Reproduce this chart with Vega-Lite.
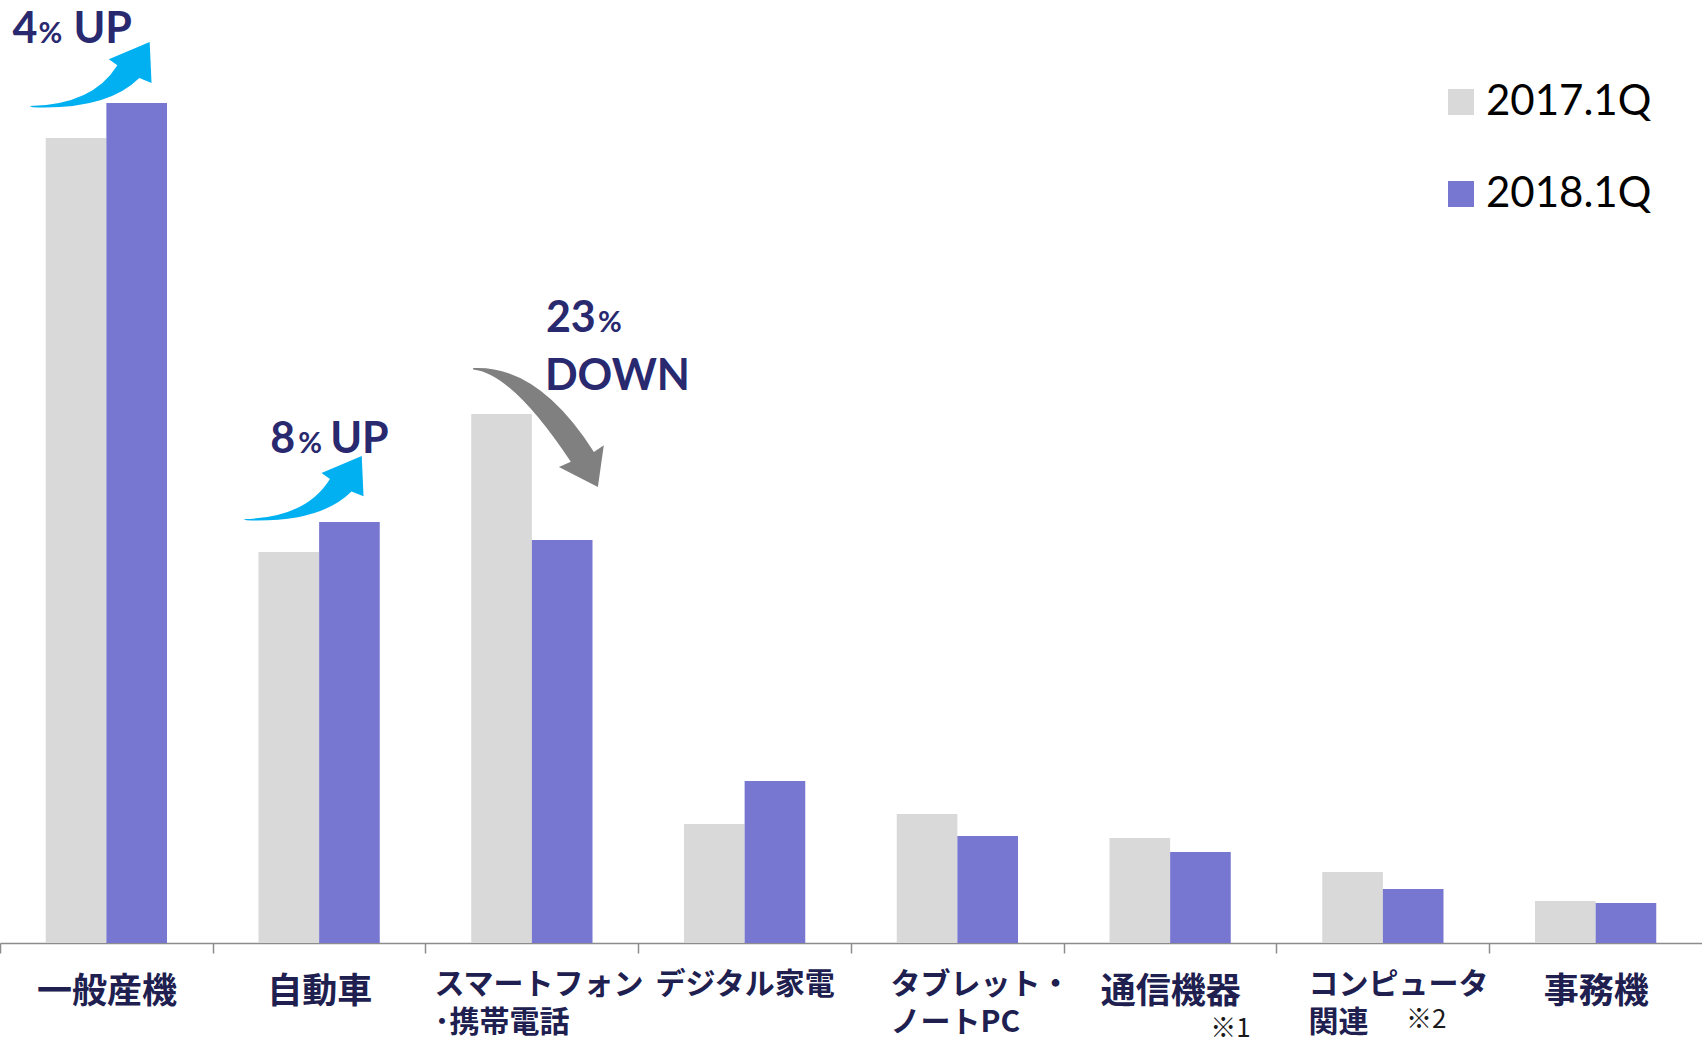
{
  "$schema": "https://vega.github.io/schema/vega-lite/v6.json",
  "width": 1702,
  "height": 943,
  "autosize": {"type": "none"},
  "padding": {"left": 0, "top": 0, "right": 0, "bottom": 96},
  "background": "white",
  "config": {"view": {"stroke": null}},
  "datasets": {
    "bars": [
      {"cat": "一般産機", "series": "2017.1Q", "value": 805},
      {"cat": "一般産機", "series": "2018.1Q", "value": 840},
      {"cat": "自動車", "series": "2017.1Q", "value": 391},
      {"cat": "自動車", "series": "2018.1Q", "value": 421},
      {"cat": "スマートフォン|･携帯電話", "series": "2017.1Q", "value": 529},
      {"cat": "スマートフォン|･携帯電話", "series": "2018.1Q", "value": 403},
      {"cat": "デジタル家電", "series": "2017.1Q", "value": 119},
      {"cat": "デジタル家電", "series": "2018.1Q", "value": 162},
      {"cat": "タブレット・|ノートPC", "series": "2017.1Q", "value": 129},
      {"cat": "タブレット・|ノートPC", "series": "2018.1Q", "value": 107},
      {"cat": "通信機器", "series": "2017.1Q", "value": 105},
      {"cat": "通信機器", "series": "2018.1Q", "value": 91},
      {"cat": "コンピュータ|関連", "series": "2017.1Q", "value": 71},
      {"cat": "コンピュータ|関連", "series": "2018.1Q", "value": 54},
      {"cat": "事務機", "series": "2017.1Q", "value": 42},
      {"cat": "事務機", "series": "2018.1Q", "value": 40}
    ]
  },
  "layer": [
    {
      "data": {"name": "bars"},
      "mark": {"type": "bar"},
      "encoding": {
        "x": {
          "field": "cat",
          "type": "nominal",
          "scale": {
            "domain": ["一般産機", "自動車", "スマートフォン|･携帯電話", "デジタル家電", "タブレット・|ノートPC", "通信機器", "コンピュータ|関連", "事務機"],
            "paddingInner": 0.43,
            "paddingOuter": 0.215
          },
          "axis": {
            "title": null,
            "domainColor": "#8c8c8c",
            "domainWidth": 1.5,
            "tickColor": "#8c8c8c",
            "tickWidth": 1.5,
            "tickSize": 10,
            "tickOffset": -106.4,
            "labelAngle": 0,
            "labelFont": "Noto Sans CJK JP",
            "labelFontWeight": "bold",
            "labelColor": "#202050",
            "labelFontSize": {"condition": {"test": "indexof(['一般産機','自動車','事務機','通信機器'], datum.value) >= 0", "value": 35}, "value": 30},
            "labelPadding": {"condition": {"test": "indexof(['一般産機','自動車','事務機','通信機器'], datum.value) >= 0", "value": 21}, "value": 16},
            "labelAlign": {"condition": {"test": "indexof(datum.value, '|') >= 0", "value": "left"}, "value": "center"},
            "labelOffset": {
              "condition": [
                {"test": "datum.value == 'スマートフォン|･携帯電話'", "value": 8.5},
                {"test": "datum.value == 'タブレット・|ノートPC'", "value": 39},
                {"test": "datum.value == 'コンピュータ|関連'", "value": 31.6}
              ],
              "value": 106.4
            },
            "labelBaseline": "top",
            "labelLineHeight": 38,
            "labelLimit": 400,
            "labelOverlap": false,
            "labelExpr": "split(datum.label, '|')"
          }
        },
        "xOffset": {"field": "series", "type": "nominal", "scale": {"paddingInner": 0, "paddingOuter": 0}},
        "y": {"field": "value", "type": "quantitative", "scale": {"domain": [0, 943], "nice": false}, "axis": null},
        "color": {
          "field": "series",
          "type": "nominal",
          "scale": {"domain": ["2017.1Q", "2018.1Q"], "range": ["#d9d9d9", "#7777d1"]},
          "legend": {
            "title": null,
            "orient": "none",
            "legendX": 1440,
            "legendY": 81,
            "direction": "vertical",
            "symbolType": "square",
            "symbolSize": 676,
            "symbolStrokeWidth": 0,
            "labelFont": "Lato",
            "labelFontSize": 42,
            "labelColor": "black",
            "labelOffset": 4,
            "rowPadding": 50,
            "padding": 0,
            "labelLimit": 400
          }
        }
      }
    },
    {
      "data": {"values": [{"cat": "通信機器", "v": -94, "t": "※1"}]},
      "mark": {"type": "text", "align": "left", "baseline": "alphabetic", "font": "Noto Sans CJK JP", "fontSize": 26, "color": "#1a1a1a", "dx": 40},
      "encoding": {"x": {"field": "cat", "type": "nominal"}, "y": {"field": "v", "type": "quantitative"}, "text": {"field": "t"}}
    },
    {
      "data": {"values": [{"cat": "コンピュータ|関連", "v": -85, "t": "※2"}]},
      "mark": {"type": "text", "align": "left", "baseline": "alphabetic", "font": "Noto Sans CJK JP", "fontSize": 26, "color": "#1a1a1a", "dx": 23},
      "encoding": {"x": {"field": "cat", "type": "nominal"}, "y": {"field": "v", "type": "quantitative"}, "text": {"field": "t"}}
    },
    {
      "data": {"values": [{"cat": "一般産機", "v": 868}]},
      "mark": {"type": "point", "shape": "M-1.26,0.51 Q-0.22,0.49 0.18,-0.16 L0.04,-0.26 L0.71,-0.54 L0.74,0.13 L0.54,0.05 Q0.015,0.575 -1.21,0.53 Z", "filled": true, "size": 14884, "color": "#00b0f0", "opacity": 1, "strokeWidth": 0},
      "encoding": {"x": {"field": "cat", "type": "nominal"}, "y": {"field": "v", "type": "quantitative"}}
    },
    {
      "data": {"values": [{"cat": "自動車", "v": 454.5}]},
      "mark": {"type": "point", "shape": "M-1.26,0.51 Q-0.22,0.49 0.18,-0.16 L0.04,-0.26 L0.71,-0.54 L0.74,0.13 L0.54,0.05 Q0.015,0.575 -1.21,0.53 Z", "filled": true, "size": 14400, "color": "#00b0f0", "opacity": 1, "strokeWidth": 0},
      "encoding": {"x": {"field": "cat", "type": "nominal"}, "y": {"field": "v", "type": "quantitative"}}
    },
    {
      "data": {"values": [{"cat": "スマートフォン|･携帯電話", "v": 515.5}]},
      "mark": {"type": "point", "shape": "M-0.89,-0.9 Q0.1,-0.95 0.94,0.37 L1.09,0.27 L1,0.9 L0.41,0.6 L0.59,0.52 Q-0.3,-0.82 -0.89,-0.88 Z", "filled": true, "size": 17424, "color": "#808080", "opacity": 1, "strokeWidth": 0},
      "encoding": {"x": {"field": "cat", "type": "nominal"}, "y": {"field": "v", "type": "quantitative"}}
    },
    {
      "data": {"values": [{"cat": "一般産機", "v": 900, "t": "4"}]},
      "mark": {"type": "text", "align": "left", "baseline": "alphabetic", "font": "Lato", "fontWeight": "bold", "fontSize": 43, "color": "#29296f", "dx": -94},
      "encoding": {"x": {"field": "cat", "type": "nominal"}, "y": {"field": "v", "type": "quantitative"}, "text": {"field": "t"}}
    },
    {
      "data": {"values": [{"cat": "一般産機", "v": 900, "t": "%"}]},
      "mark": {"type": "text", "align": "left", "baseline": "alphabetic", "font": "Lato", "fontWeight": "bold", "fontSize": 29, "color": "#29296f", "dx": -68},
      "encoding": {"x": {"field": "cat", "type": "nominal"}, "y": {"field": "v", "type": "quantitative"}, "text": {"field": "t"}}
    },
    {
      "data": {"values": [{"cat": "一般産機", "v": 900, "t": "UP"}]},
      "mark": {"type": "text", "align": "left", "baseline": "alphabetic", "font": "Lato", "fontWeight": "bold", "fontSize": 43, "color": "#29296f", "dx": -33},
      "encoding": {"x": {"field": "cat", "type": "nominal"}, "y": {"field": "v", "type": "quantitative"}, "text": {"field": "t"}}
    },
    {
      "data": {"values": [{"cat": "自動車", "v": 490, "t": "8"}]},
      "mark": {"type": "text", "align": "left", "baseline": "alphabetic", "font": "Lato", "fontWeight": "bold", "fontSize": 43, "color": "#29296f", "dx": -49},
      "encoding": {"x": {"field": "cat", "type": "nominal"}, "y": {"field": "v", "type": "quantitative"}, "text": {"field": "t"}}
    },
    {
      "data": {"values": [{"cat": "自動車", "v": 490, "t": "%"}]},
      "mark": {"type": "text", "align": "left", "baseline": "alphabetic", "font": "Lato", "fontWeight": "bold", "fontSize": 29, "color": "#29296f", "dx": -21},
      "encoding": {"x": {"field": "cat", "type": "nominal"}, "y": {"field": "v", "type": "quantitative"}, "text": {"field": "t"}}
    },
    {
      "data": {"values": [{"cat": "自動車", "v": 490, "t": "UP"}]},
      "mark": {"type": "text", "align": "left", "baseline": "alphabetic", "font": "Lato", "fontWeight": "bold", "fontSize": 43, "color": "#29296f", "dx": 11},
      "encoding": {"x": {"field": "cat", "type": "nominal"}, "y": {"field": "v", "type": "quantitative"}, "text": {"field": "t"}}
    },
    {
      "data": {"values": [{"cat": "スマートフォン|･携帯電話", "v": 611, "t": "23"}]},
      "mark": {"type": "text", "align": "left", "baseline": "alphabetic", "font": "Lato", "fontWeight": "bold", "fontSize": 43, "color": "#29296f", "dx": 14},
      "encoding": {"x": {"field": "cat", "type": "nominal"}, "y": {"field": "v", "type": "quantitative"}, "text": {"field": "t"}}
    },
    {
      "data": {"values": [{"cat": "スマートフォン|･携帯電話", "v": 611, "t": "%"}]},
      "mark": {"type": "text", "align": "left", "baseline": "alphabetic", "font": "Lato", "fontWeight": "bold", "fontSize": 29, "color": "#29296f", "dx": 66},
      "encoding": {"x": {"field": "cat", "type": "nominal"}, "y": {"field": "v", "type": "quantitative"}, "text": {"field": "t"}}
    },
    {
      "data": {"values": [{"cat": "スマートフォン|･携帯電話", "v": 553, "t": "DOWN"}]},
      "mark": {"type": "text", "align": "left", "baseline": "alphabetic", "font": "Lato", "fontWeight": "bold", "fontSize": 43, "color": "#29296f", "dx": 13},
      "encoding": {"x": {"field": "cat", "type": "nominal"}, "y": {"field": "v", "type": "quantitative"}, "text": {"field": "t"}}
    }
  ]
}
